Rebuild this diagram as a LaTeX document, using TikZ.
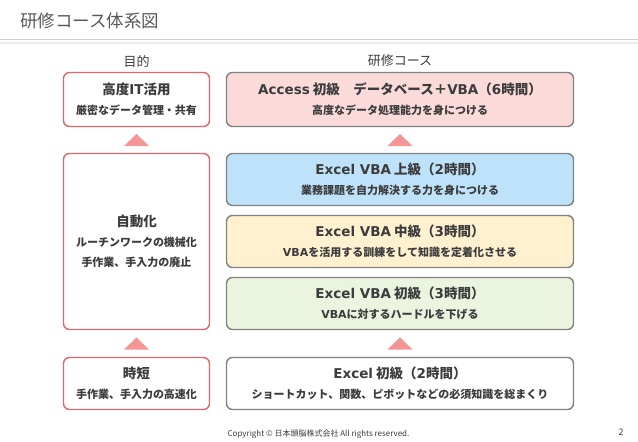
\documentclass[tikz,border=0pt]{standalone}
\usepackage{fontspec}
\setmainfont{Noto Sans CJK JP}
\newfontfamily\latinfont{DejaVu Sans}
\usetikzlibrary{positioning}

\definecolor{goalred}{RGB}{222,104,104}
\definecolor{trired}{RGB}{244,150,150}
\definecolor{boxgray}{RGB}{130,130,130}
\definecolor{inktext}{RGB}{60,60,60}
\definecolor{fillpink}{RGB}{251,218,218}
\definecolor{fillblue}{RGB}{190,226,250}
\definecolor{fillyellow}{RGB}{255,241,208}
\definecolor{fillgreen}{RGB}{234,244,222}

\newcommand\ttl[1]{{\fontsize{13.5}{20}\selectfont\bfseries #1}}
\newcommand\lat[1]{{\latinfont\bfseries #1}}

\begin{document}
\begin{tikzpicture}[x=1pt,y=-1pt,every node/.style={outer sep=0pt,text=inktext},
 goal/.style={draw=goalred,line width=1.4pt,rounded corners=6pt,fill=white,
 minimum width=146pt,align=center,inner sep=0pt,
 font=\fontsize{11}{20}\selectfont\bfseries},
 course/.style={draw=boxgray,line width=1.4pt,rounded corners=6pt,
 minimum width=347pt,minimum height=52pt,align=center,inner sep=0pt,
 font=\fontsize{11}{20}\selectfont\bfseries},
 colhead/.style={font=\fontsize{13}{15}\selectfont},
 uptri/.pic={\fill[trired] (-12.5,6) -- (12.5,6) -- (0,-6) -- cycle;}]

  \useasboundingbox (0,0) rectangle (638,442);

  % header
  \node[anchor=west,text=inktext!85,font=\fontsize{17.5}{20}\selectfont] (title) at (17,21) {研修コース体系図};
  \draw[black!18,line width=0.8pt] (0,39.5) -- (638,39.5);
  \draw[black!8,line width=2pt] (0,42.5) -- (638,42.5);

  \node[colhead] (headgoal) at (136.5,61) {目的};
  \node[colhead] (headcourse) at (400,61) {研修コース};

  % purpose column
  \node[goal,minimum height=54pt] (goal1) at (136.5,99.5)
   {\ttl{高度\lat{IT}活用}\\厳密なデータ管理・共有};
  \node[goal,minimum height=176pt] (goal2) at (136.5,241.5)
   {\ttl{自動化}\\ルーチンワークの機械化\\手作業、手入力の廃止};
  \node[goal,minimum height=52pt] (goal3) at (136.5,383.5)
   {\ttl{時短}\\手作業、手入力の高速化};

  % course column
  \node[course,minimum height=54pt,fill=fillpink] (access) at (400,99.5)
   {\ttl{\lat{Access} 初級　データベース＋\lat{VBA}（\lat{6}時間）}\\高度なデータ処理能力を身につける};
  \node[course,fill=fillblue] (vbaadv) at (400,179.5)
   {\ttl{\lat{Excel VBA} 上級（\lat{2}時間）}\\業務課題を自力解決する力を身につける};
  \node[course,fill=fillyellow] (vbamid) at (400,241.5)
   {\ttl{\lat{Excel VBA} 中級（\lat{3}時間）}\\\lat{VBA}を活用する訓練をして知識を定着化させる};
  \node[course,fill=fillgreen] (vbabeg) at (400,303.5)
   {\ttl{\lat{Excel VBA} 初級（\lat{3}時間）}\\\lat{VBA}に対するハードルを下げる};
  \node[course,fill=white] (excel) at (400,383.5)
   {\ttl{\lat{Excel} 初級（\lat{2}時間）}\\ショートカット、関数、ピボットなどの必須知識を総まくり};

  % step-up marks
  \path (goal2.north) -- (goal1.south) pic[midway]{uptri};
  \path (goal3.north) -- (goal2.south) pic[midway]{uptri};
  \path (vbaadv.north) -- (access.south) pic[midway]{uptri};
  \path (excel.north) -- (vbabeg.south) pic[midway]{uptri};

  % footer
  \node[font=\fontsize{8}{9}\selectfont] (copy) at (318.5,434) {Copyright © 日本頭脳株式会社 All rights reserved.};
  \node[font=\fontsize{9}{10}\selectfont] (page) at (621,432) {2};

\end{tikzpicture}
\end{document}
